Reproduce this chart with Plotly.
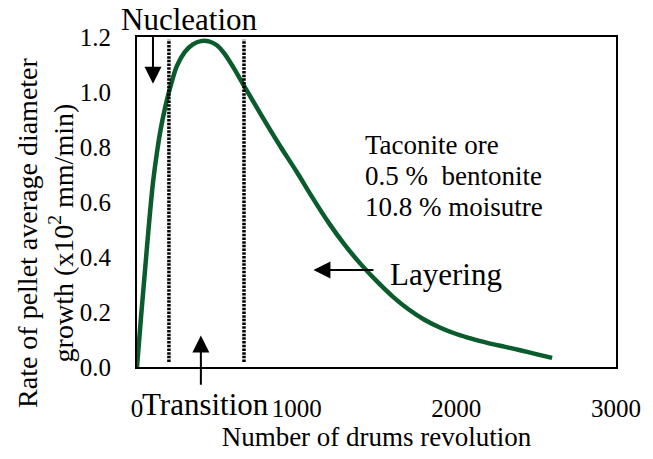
import plotly.graph_objects as go

# Growth-rate curve: drum revolutions vs. rate of average diameter growth (x10^2 mm/min)
revolutions = [0, 25, 50, 75, 100, 125, 150, 175, 200, 250, 300, 350, 400, 450, 500, 550, 600, 650, 700,
               750, 800, 900, 1000, 1100, 1200, 1300, 1400, 1500, 1600, 1700, 1800, 1900,
               2000, 2100, 2200, 2300, 2400, 2500, 2600]
growth_rate = [0.0, 0.18, 0.35, 0.52, 0.67, 0.78, 0.87, 0.94, 1.00, 1.095, 1.146, 1.173, 1.185, 1.184, 1.170, 1.138, 1.093, 1.043, 0.993,
               0.944, 0.895, 0.80, 0.71, 0.615, 0.525, 0.445, 0.375, 0.313, 0.257, 0.21, 0.172, 0.143,
               0.12, 0.102, 0.087, 0.074, 0.061, 0.047, 0.033]

# Regime boundaries (nucleation | transition | layering)
boundaries = [200, 670]
boundary_span = [0.018, 1.19]

x_ticks = [0, 1000, 2000, 3000]
y_ticks = [0.0, 0.2, 0.4, 0.6, 0.8, 1.0, 1.2]

note_lines = ["Taconite ore", "0.5 %  bentonite", "10.8 % moisutre"]
note_y = [0.807, 0.694, 0.583]

FONT = "Liberation Serif"
GREEN = "#0a5c2c"

W, H = 653, 459
ML, MR, MT, MB = 137, 30, 37, 88
PW, PH = W - ML - MR, H - MT - MB


def px_x(px):
    """Horizontal pixel position -> paper fraction."""
    return (px - ML) / PW


def px_y(py):
    """Vertical pixel position (from top) -> paper fraction."""
    return (H - MB - py) / PH


fig = go.Figure()

fig.add_trace(go.Scatter(
    x=revolutions, y=growth_rate, mode="lines",
    line=dict(color=GREEN, width=4.5, shape="spline", smoothing=0.7),
    showlegend=False, hoverinfo="skip",
))

for b in boundaries:
    fig.add_trace(go.Scatter(
        x=[b, b], y=boundary_span, mode="lines",
        line=dict(color="black", width=3.5, dash="2.5px,1.2px"),
        showlegend=False, hoverinfo="skip",
    ))

annotations = []

# Phase arrows
arrow_style = dict(showarrow=True, arrowhead=2, arrowsize=1.7, arrowwidth=2,
                   arrowcolor="black", axref="x", ayref="y", text="")
annotations.append(dict(x=100, y=1.03, ax=100, ay=1.21, **arrow_style))
annotations.append(dict(x=400, y=0.115, ax=400, ay=-0.07, **arrow_style))
annotations.append(dict(x=1105, y=0.3525, ax=1490, ay=0.3525, **arrow_style))

label_font = dict(family=FONT, size=31, color="black")
annotations.append(dict(x=px_x(190), xref="paper", y=px_y(19), yref="paper",
                        text="Nucleation", showarrow=False, font=label_font,
                        xanchor="center", yanchor="middle"))
annotations.append(dict(x=px_x(207), xref="paper", y=px_y(409), yref="paper",
                        text="Transition", showarrow=False, font=label_font,
                        xanchor="center", yanchor="middle"))
annotations.append(dict(x=1570, y=0.335, text="Layering", showarrow=False,
                        font=label_font, xanchor="left", yanchor="middle"))

for line, yy in zip(note_lines, note_y):
    annotations.append(dict(x=1415, y=yy, text=line, showarrow=False,
                            font=dict(family=FONT, size=27, color="black"),
                            xanchor="left", yanchor="middle"))

# Two-line vertical axis title
annotations.append(dict(
    x=px_x(44), xref="paper", xanchor="center", y=px_y(235), yref="paper", yanchor="middle",
    text="Rate of pellet average diameter<br>growth (x10<sup>2</sup> mm/min)",
    textangle=-90, showarrow=False, font=dict(family=FONT, size=28, color="black"),
))

fig.update_layout(
    width=W, height=H,
    margin=dict(l=ML, r=MR, t=MT, b=MB),
    paper_bgcolor="white", plot_bgcolor="white",
    font=dict(family=FONT, color="black"),
    annotations=annotations,
    xaxis=dict(
        range=[0, 3000], tickvals=x_ticks, ticktext=[str(v) for v in x_ticks],
        showgrid=False, zeroline=False, showline=True, linecolor="black", linewidth=1.8,
        mirror=True, ticks="", ticklabelstandoff=18,
        tickfont=dict(family=FONT, size=25, color="black"),
        title=dict(text="Number of drums revolution", standoff=6,
                   font=dict(family=FONT, size=27, color="black")),
    ),
    yaxis=dict(
        range=[0, 1.2], tickvals=y_ticks, tickformat=".1f",
        showgrid=False, zeroline=False, showline=True, linecolor="black", linewidth=1.8,
        mirror=True, ticks="", ticklabelstandoff=19,
        tickfont=dict(family=FONT, size=25, color="black"),
    ),
)

fig.write_html("out.html")
